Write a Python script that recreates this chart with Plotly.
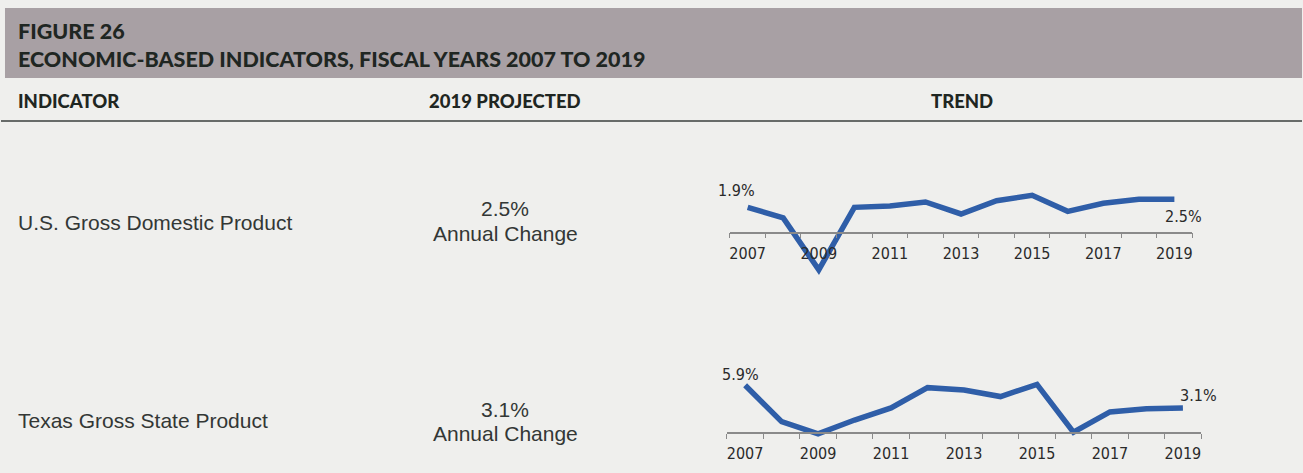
import plotly.graph_objects as go

# ---- data -------------------------------------------------------------
years = list(range(2007, 2020))
us_gdp = [1.9, 1.1, -2.8, 1.9, 2.0, 2.3, 1.4, 2.4, 2.8, 1.6, 2.2, 2.5, 2.5]
tx_gsp = [5.9, 1.4, -0.1, 1.6, 3.1, 5.6, 5.3, 4.5, 6.0, 0.1, 2.6, 3.0, 3.1]
indicators = ["U.S. Gross Domestic Product", "Texas Gross State Product"]
projected = ["2.5%", "3.1%"]
year_labels = [2007, 2009, 2011, 2013, 2015, 2017, 2019]

# ---- layout constants (pixels) ------------------------------------------
W, H = 1303, 473
BG = "#efefed"
BAR = "#a8a0a4"
INK = "#1f2622"
BLUE = "#2f5ea8"
AXIS = "#8a8a8a"
HEAD_FONT = "Lato, 'Open Sans', sans-serif"
BODY_FONT = "'Liberation Sans', Arial, sans-serif"
NARROW = "'Liberation Sans Narrow', 'DejaVu Sans Condensed', sans-serif"


def px(x):
    return x / W


def py(y):
    return 1 - y / H


# sparkline panels: x pixel span, zero-line pixel, px per percent, y range,
# and pixel offsets for the first / last value labels
panels = [
    dict(x0=730, x1=1193, zero=232.6, scale=13.3, yr=(-4, 4.5),
         first=(-11, 17), last=(9, -17)),
    dict(x0=727, x1=1202, zero=433.0, scale=8.1, yr=(-2, 8),
         first=(-5, 11), last=(16, 12)),
]
series = [us_gdp, tx_gsp]

fig = go.Figure()

for i, (p, vals) in enumerate(zip(panels, series), start=1):
    top = p["zero"] - p["yr"][1] * p["scale"]
    bot = p["zero"] - p["yr"][0] * p["scale"]
    xa = "xaxis" if i == 1 else f"xaxis{i}"
    ya = "yaxis" if i == 1 else f"yaxis{i}"
    xr = "x" if i == 1 else f"x{i}"
    yr = "y" if i == 1 else f"y{i}"
    fig.add_trace(go.Scatter(
        x=years, y=vals, mode="lines", xaxis=xr, yaxis=yr,
        line=dict(color=BLUE, width=5.5), hoverinfo="skip", showlegend=False,
    ))
    fig.layout[xa] = dict(
        domain=[px(p["x0"]), px(p["x1"])], range=[2006.5, 2019.5],
        anchor="free", position=py(p["zero"]),
        showline=True, linecolor=AXIS, linewidth=1.5,
        showgrid=False, zeroline=False,
        tickvals=year_labels, ticks="", ticklabelstandoff=6,
        tickfont=dict(family=NARROW, size=16, color="#2a2a2a"),
        minor=dict(ticks="outside", ticklen=5, tickcolor=AXIS, tickwidth=1.2,
                   tick0=2006.5, dtick=1, showgrid=False),
        fixedrange=True,
    )
    fig.layout[ya] = dict(
        domain=[py(bot), py(top)], range=list(p["yr"]),
        visible=False, fixedrange=True,
    )
    # first and last value labels
    fig.add_annotation(x=years[0], y=vals[0], xref=xr, yref=yr,
                       text=f"{vals[0]:.1f}%", showarrow=False,
                       xshift=p["first"][0], yshift=p["first"][1],
                       font=dict(family=NARROW, size=16, color="#2a2a2a"))
    fig.add_annotation(x=years[-1], y=vals[-1], xref=xr, yref=yr,
                       text=f"{vals[-1]:.1f}%", showarrow=False,
                       xshift=p["last"][0], yshift=p["last"][1],
                       font=dict(family=NARROW, size=16, color="#2a2a2a"))

# header band and rule
fig.add_shape(type="rect", xref="paper", yref="paper",
              x0=px(4), x1=1, y0=py(78), y1=py(8),
              fillcolor=BAR, line=dict(width=0), layer="below")
fig.add_shape(type="line", xref="paper", yref="paper",
              x0=0, x1=1, y0=py(121), y1=py(121),
              line=dict(color="#3a3f3c", width=1.5))


def label(x, y, text, size, family, color=INK, anchor="left", weight="normal"):
    fig.add_annotation(x=px(x), y=py(y), xref="paper", yref="paper",
                       text=text, showarrow=False, xanchor=anchor,
                       yanchor="middle",
                       font=dict(family=family, size=size, color=color,
                                 weight=weight))


label(15, 31, "FIGURE 26", 21.5, HEAD_FONT, weight=900)
label(15, 59, "ECONOMIC-BASED INDICATORS, FISCAL YEARS 2007 TO 2019", 21.5,
      HEAD_FONT, weight=900)
label(15, 101, "INDICATOR", 18.5, HEAD_FONT, weight=900)
label(505, 101, "2019 PROJECTED", 18.5, HEAD_FONT, anchor="center", weight=900)
label(962, 101, "TREND", 18.5, HEAD_FONT, anchor="center", weight=900)

row_y = [(222, 208, 233), (420, 409, 433)]
for name, proj, (yl, y1, y2) in zip(indicators, projected, row_y):
    label(15, yl, name, 21, BODY_FONT, color="#333735")
    label(505, y1, proj, 21, BODY_FONT, color="#333735", anchor="center")
    label(505, y2, "Annual Change", 21, BODY_FONT, color="#333735",
          anchor="center")

fig.update_layout(
    width=W, height=H, margin=dict(l=0, r=0, t=0, b=0),
    paper_bgcolor=BG, plot_bgcolor="rgba(0,0,0,0)",
    showlegend=False,
)

fig.write_html("out.html", config={"displayModeBar": False})
